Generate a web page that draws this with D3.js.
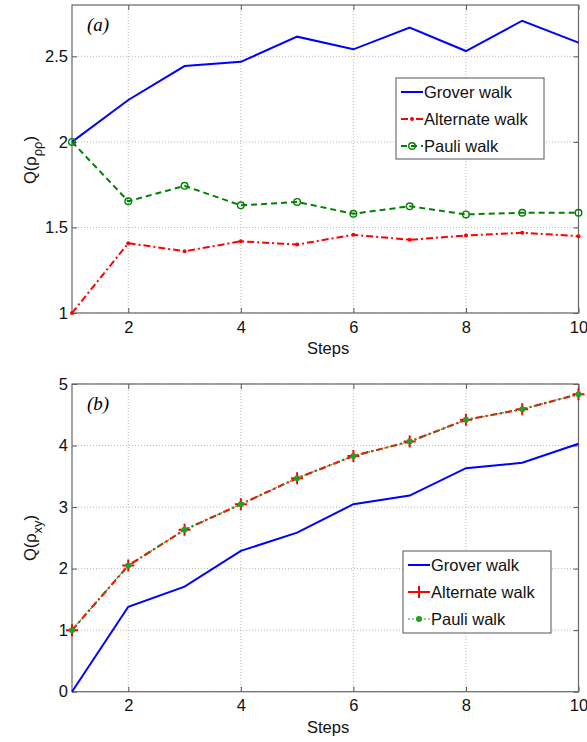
<!DOCTYPE html>
<html>
<head>
<meta charset="utf-8">
<script src="https://cdn.jsdelivr.net/npm/d3@7"></script>
<style>
  body { margin: 0; background: #fff; }
  svg { font-family: "Liberation Sans", Arial, sans-serif; }
</style>
</head>
<body>
<div id="chart"></div>
<script>
const steps = [1, 2, 3, 4, 5, 6, 7, 8, 9, 10];

// panel (a)
const groverA = [2.0, 2.245, 2.443, 2.468, 2.615, 2.541, 2.668, 2.531, 2.708, 2.58];
const alternateA = [1.0, 1.408, 1.361, 1.419, 1.40, 1.457, 1.428, 1.453, 1.469, 1.449];
const pauliA = [2.0, 1.653, 1.743, 1.629, 1.649, 1.58, 1.624, 1.576, 1.586, 1.586];

// panel (b)
const groverB = [0, 1.38, 1.707, 2.288, 2.585, 3.047, 3.187, 3.632, 3.72, 4.03];
const alternateB = [1.0, 2.05, 2.63, 3.047, 3.47, 3.83, 4.065, 4.418, 4.59, 4.835];
const pauliB = [1.0, 2.05, 2.63, 3.047, 3.47, 3.83, 4.065, 4.418, 4.59, 4.835];

const xTicks = [2, 4, 6, 8, 10];
const yTicksA = [1, 1.5, 2, 2.5];
const yTicksB = [0, 1, 2, 3, 4, 5];
const seriesNames = ["Grover walk", "Alternate walk", "Pauli walk"];

const width = 587, height = 742;
const svg = d3.select("#chart").append("svg")
    .attr("width", width)
    .attr("height", height);

const left = 72, right = 578.5;
const fs = 16.5;
const x = d3.scaleLinear().domain([1, 10]).range([left, right]);

function panel(cfg) {
    const y = d3.scaleLinear().domain(cfg.domain).range([cfg.bottom, cfg.top]);
    const g = svg.append("g");

    // dotted grid
    g.selectAll(".gx").data(xTicks).enter().append("line")
        .attr("x1", d => x(d)).attr("x2", d => x(d))
        .attr("y1", cfg.top).attr("y2", cfg.bottom)
        .attr("stroke", "#b8b8b8").attr("stroke-width", 1)
        .attr("stroke-dasharray", "1,2");
    g.selectAll(".gy").data(cfg.yTicks).enter().append("line")
        .attr("x1", left).attr("x2", right)
        .attr("y1", d => y(d)).attr("y2", d => y(d))
        .attr("stroke", "#b8b8b8").attr("stroke-width", 1)
        .attr("stroke-dasharray", "1,2");

    // axes (ticks inward, MATLAB style)
    const xAxis = d3.axisBottom(x).tickValues(xTicks).tickSize(-5).tickPadding(8).tickFormat(d3.format("d"));
    const xTop = d3.axisTop(x).tickValues(xTicks).tickSize(-5).tickFormat("");
    const yAxis = d3.axisLeft(y).tickValues(cfg.yTicks).tickSize(-5).tickPadding(4).tickFormat(d => d);
    const yRight = d3.axisRight(y).tickValues(cfg.yTicks).tickSize(-5).tickFormat("");

    [[xAxis, `translate(0,${cfg.bottom})`], [xTop, `translate(0,${cfg.top})`],
     [yAxis, `translate(${left},0)`], [yRight, `translate(${right},0)`]].forEach(([ax, tr]) => {
        const a = g.append("g").attr("transform", tr).call(ax);
        a.select(".domain").remove();
        a.selectAll(".tick line").attr("stroke", "#555");
        a.selectAll("text").attr("font-size", fs).attr("fill", "#111")
            .attr("font-family", "'Liberation Sans', Arial, sans-serif");
    });

    g.append("rect")
        .attr("x", left).attr("y", cfg.top)
        .attr("width", right - left).attr("height", cfg.bottom - cfg.top)
        .attr("fill", "none").attr("stroke", "#666").attr("stroke-width", 1.2);

    const line = d3.line().x((d, i) => x(steps[i])).y(d => y(d));

    cfg.series.forEach(s => {
        g.append("path").datum(s.values)
            .attr("d", line)
            .attr("fill", "none")
            .attr("stroke", s.color)
            .attr("stroke-width", s.width)
            .attr("stroke-dasharray", s.dash);
        drawMarkers(g, s, s.values.map((v, i) => [x(steps[i]), y(v)]));
    });

    // panel label
    g.append("text")
        .attr("x", 87).attr("y", cfg.top + 26)
        .attr("font-family", "'Liberation Serif', 'Times New Roman', serif")
        .attr("font-style", "italic").attr("font-size", 19)
        .text(cfg.label);

    // axis titles
    g.append("text")
        .attr("x", x(5.55)).attr("y", cfg.bottom + 41)
        .attr("text-anchor", "middle").attr("font-size", fs).attr("fill", "#111")
        .text("Steps");

    const yl = g.append("text")
        .attr("transform", `translate(36,${cfg.labelY}) rotate(-90)`)
        .attr("text-anchor", "middle").attr("font-size", fs).attr("fill", "#111");
    yl.append("tspan").text("Q(ρ");
    yl.append("tspan").attr("font-size", 13).attr("dy", 6).text(cfg.sub);
    yl.append("tspan").attr("dy", -6).text(")");

    // legend
    const L = cfg.legend;
    g.append("rect")
        .attr("x", L.x).attr("y", L.y).attr("width", L.w).attr("height", L.h)
        .attr("fill", "#fff").attr("stroke", "#555").attr("stroke-width", 1);
    cfg.series.forEach((s, i) => {
        const cy = L.y + 14 + i * 27;
        g.append("line")
            .attr("x1", L.x + 5).attr("x2", L.x + 27)
            .attr("y1", cy).attr("y2", cy)
            .attr("stroke", s.color).attr("stroke-width", s.width)
            .attr("stroke-dasharray", s.dash);
        drawMarkers(g, s, [[L.x + 16, cy]]);
        g.append("text")
            .attr("x", L.x + 28).attr("y", cy + 6)
            .attr("font-size", fs).attr("fill", "#111")
            .text(seriesNames[i]);
    });
}

function drawMarkers(g, s, pts) {
    if (s.marker === "circle") {
        g.selectAll(null).data(pts).enter().append("circle")
            .attr("cx", d => d[0]).attr("cy", d => d[1]).attr("r", 3.3)
            .attr("fill", "none").attr("stroke", s.color).attr("stroke-width", 1.4);
    } else if (s.marker === "dot") {
        g.selectAll(null).data(pts).enter().append("circle")
            .attr("cx", d => d[0]).attr("cy", d => d[1]).attr("r", s.r)
            .attr("fill", s.color);
    } else if (s.marker === "plus") {
        g.selectAll(null).data(pts).enter().append("path")
            .attr("d", d => `M${d[0] - 6},${d[1]}H${d[0] + 6}M${d[0]},${d[1] - 6}V${d[1] + 6}`)
            .attr("stroke", s.color).attr("stroke-width", 2);
    }
}

panel({
    top: 5, bottom: 313, domain: [1, 2.8], yTicks: yTicksA, label: "(a)",
    sub: "ρρ", labelY: 160,
    legend: { x: 396, y: 78, w: 148, h: 81 },
    series: [
        { values: groverA, color: "#0000ff", width: 2, dash: null, marker: null },
        { values: alternateA, color: "#ff0000", width: 2, dash: "7,3,2,3", marker: "dot", r: 2 },
        { values: pauliA, color: "#008000", width: 2, dash: "6,4", marker: "circle" }
    ]
});

panel({
    top: 384, bottom: 691.7, domain: [0, 5], yTicks: yTicksB, label: "(b)",
    sub: "xy", labelY: 538,
    legend: { x: 403, y: 551, w: 148, h: 82 },
    series: [
        { values: groverB, color: "#0000ff", width: 2, dash: null, marker: null },
        { values: alternateB, color: "#ff0000", width: 2.2, dash: "7,3,2,3", marker: "plus" },
        { values: pauliB, color: "#22a022", width: 1.2, dash: "2,2", marker: "dot", r: 3 }
    ]
});
</script>
</body>
</html>
